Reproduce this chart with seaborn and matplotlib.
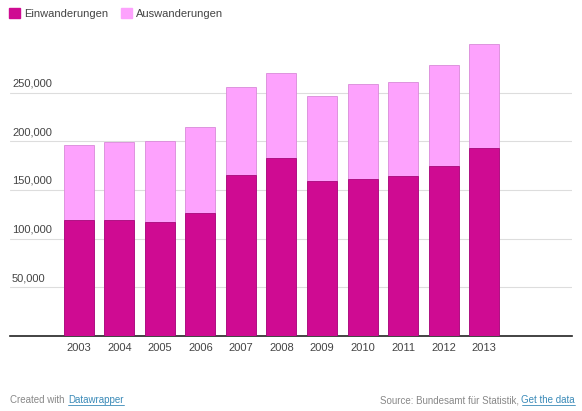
import numpy as np
import pandas as pd
import matplotlib
matplotlib.use('Agg')
import matplotlib.pyplot as plt
import seaborn as sns
from matplotlib.lines import Line2D
from matplotlib.patches import Patch

jahre = ['2003', '2004', '2005', '2006', '2007', '2008',
         '2009', '2010', '2011', '2012', '2013']
einwanderungen = [119000, 119000, 117300, 126500, 165200, 183300,
                  159400, 161400, 164500, 174400, 192900]
auswanderungen = [77600, 80700, 83400, 88600, 90300, 86900,
                  86800, 97800, 96500, 104300, 106700]
y_ticks = [50000, 100000, 150000, 200000, 250000]

FARBE_EIN = '#cf0b92'
FARBE_AUS = '#fda2fd'
TEXT_GRAU = '#444444'

df = pd.DataFrame({'Jahr': jahre, 'Einwanderungen': einwanderungen,
                   'Auswanderungen': auswanderungen})
df['Gesamt'] = df['Einwanderungen'] + df['Auswanderungen']

sns.set_theme(style='white')
plt.rcParams['font.family'] = ['Liberation Sans', 'DejaVu Sans']

W, H = 582, 411
fig = plt.figure(figsize=(W / 100, H / 100), dpi=100)
ax = fig.add_axes([10 / W, (H - 336) / H, 562 / W, 296 / H])

for y in y_ticks:
    ax.axhline(y, color='#dddddd', linewidth=0.8, zorder=0)

sns.barplot(data=df, x='Jahr', y='Gesamt', color=FARBE_AUS, width=0.74,
            edgecolor='#d98ad9', linewidth=0.6, saturation=1, ax=ax, zorder=2)
sns.barplot(data=df, x='Jahr', y='Einwanderungen', color=FARBE_EIN, width=0.74,
            edgecolor='#a8087a', linewidth=0.6, saturation=1, ax=ax, zorder=3)

ax.set_xlim(-1.70, 12.17)
ax.set_ylim(0, 304000)
ax.set_xlabel('')
ax.set_ylabel('')
ax.set_yticks([])
ax.tick_params(axis='x', length=0, pad=5, labelsize=8, labelcolor=TEXT_GRAU)
for s in ['top', 'right', 'left']:
    ax.spines[s].set_visible(False)
ax.spines['bottom'].set_color('#222222')
ax.spines['bottom'].set_linewidth(1.2)

for y in y_ticks:
    ax.annotate(f'{y:,}', xy=(0, y), xycoords=('axes fraction', 'data'),
                xytext=(1.5, 3), textcoords='offset points',
                ha='left', va='bottom', fontsize=8, color=TEXT_GRAU)

handles = [Patch(facecolor=FARBE_EIN, edgecolor=FARBE_EIN, label='Einwanderungen'),
           Patch(facecolor=FARBE_AUS, edgecolor=FARBE_AUS, label='Auswanderungen')]
fig.legend(handles=handles, loc='upper left', bbox_to_anchor=(5 / W, 1 - 4 / H),
           borderaxespad=0, ncol=2, frameon=False, fontsize=8,
           handlelength=0.95, handleheight=0.95,
           handletextpad=0.35, columnspacing=1.2, labelcolor=TEXT_GRAU)

# Fusszeile
fy = 1 - 400 / H
fig.text(10 / W, fy, 'Created with', fontsize=7, color='#888888', va='center')
fig.text(68 / W, fy, 'Datawrapper', fontsize=7, color='#3a8ab8', va='center')
fig.add_artist(Line2D([68 / W, 124 / W], [fy - 5 / H, fy - 5 / H],
                      color='#3a8ab8', linewidth=0.6))
fig.text(519 / W, fy, 'Source: Bundesamt für Statistik,', fontsize=7,
         color='#888888', va='center', ha='right')
fig.text(575 / W, fy, 'Get the data', fontsize=7, color='#3a8ab8',
         va='center', ha='right')
fig.add_artist(Line2D([522 / W, 575 / W], [fy - 5 / H, fy - 5 / H],
                      color='#3a8ab8', linewidth=0.6))

fig.savefig('out.png', dpi=100)
